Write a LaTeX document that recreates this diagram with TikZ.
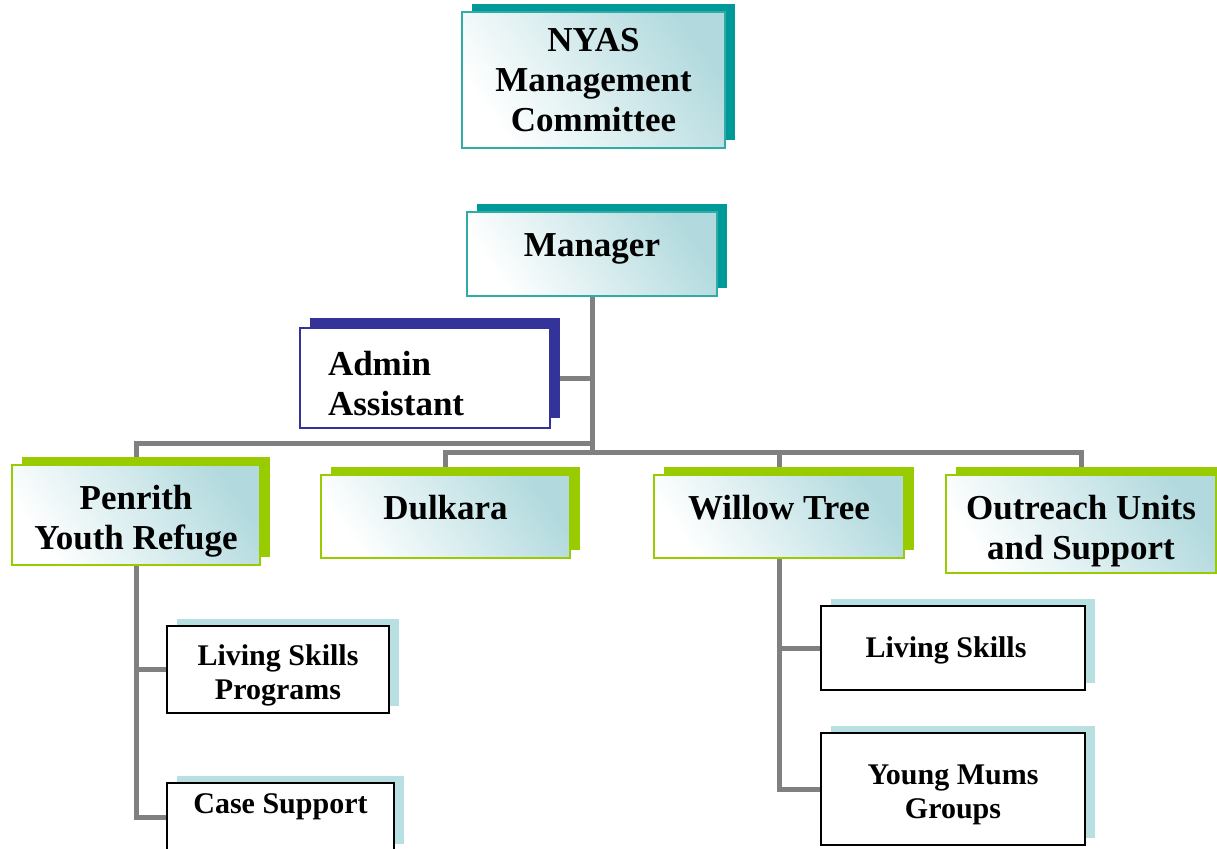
\documentclass[tikz,border=0pt]{standalone}
\usepackage{fontspec}
\setmainfont{Liberation Serif}
\usetikzlibrary{positioning,shadows,backgrounds}
\definecolor{nyasdark}{RGB}{0,153,153}
\definecolor{nyasline}{RGB}{48,172,166}
\definecolor{boxtint}{RGB}{178,218,222}
\definecolor{adminblue}{RGB}{51,51,153}
\definecolor{unitgreen}{RGB}{153,204,0}
\definecolor{subshade}{RGB}{184,224,226}
\definecolor{linkgray}{RGB}{128,128,128}
\tikzset{
  orgbox/.style={draw,line width=1.5pt,inner sep=0pt,align=center,
    font=\bfseries\fontsize{35}{40}\selectfont},
  tintfill/.style={left color=white,right color=boxtint,shading angle=125},
  tealbox/.style={orgbox,draw=nyasline,tintfill,
    general shadow={fill=nyasdark,shadow xshift=10pt,shadow yshift=8pt}},
  greenbox/.style={orgbox,draw=unitgreen,tintfill,
    general shadow={fill=unitgreen,shadow xshift=10pt,shadow yshift=8pt}},
  adminbox/.style={orgbox,draw=adminblue,fill=white,
    general shadow={fill=adminblue,shadow xshift=10pt,shadow yshift=10pt}},
  subbox/.style={orgbox,draw=black,fill=white,font=\bfseries\fontsize{30}{34}\selectfont,
    general shadow={fill=subshade,shadow xshift=10pt,shadow yshift=7pt}},
  link/.style={draw=linkgray,line width=5pt},
  lift/.style 2 args={text height=#1,text depth=#2},
  sink/.style={text height=#1},
}

\begin{document}
\begin{tikzpicture}[x=1pt,y=-1pt]
  \useasboundingbox (0,0) rectangle (1217,848);
  % top of the chart
  \node[tealbox,minimum width=263pt,minimum height=136pt] (nyas) at (593.5,80) {NYAS\\Management\\Committee};
  \node[tealbox,lift={24pt}{20pt},minimum width=250pt,minimum height=84pt] (mgr) at (592,254) {Manager};
  \node[adminbox,sink=36pt,align=left,text width=194pt,inner xsep=28pt,minimum height=100pt] (admin) at (425,378) {Admin\\Assistant};
  % services
  \node[greenbox,sink=76pt,minimum width=248pt,minimum height=100pt] (pyr) at (136,515) {Penrith\\Youth Refuge};
  \node[greenbox,lift={24pt}{19pt},minimum width=249pt,minimum height=83pt] (dul) at (445.5,516.5) {Dulkara};
  \node[greenbox,lift={24pt}{19pt},minimum width=250pt,minimum height=83pt] (wil) at (779,516.5) {Willow Tree};
  \node[greenbox,sink=78pt,minimum width=270pt,minimum height=98pt] (out) at (1081,524) {Outreach Units\\and Support};
  % programs
  \node[subbox,sink=66pt,minimum width=222pt,minimum height=87pt] (lsp) at (278,669.5) {Living Skills\\Programs};
  \node[subbox,lift={21pt}{29pt},minimum width=227pt,minimum height=68pt] (cs) at (280.5,817) {Case Support};
  \node[subbox,lift={24pt}{6pt},minimum width=264pt,minimum height=84pt] (ls) at (953,648) {Living Skills\hspace*{14pt}};
  \node[subbox,sink=66pt,minimum width=264pt,minimum height=112pt] (ymg) at (953,789) {Young Mums\\Groups};
  % connectors
  \begin{scope}[on background layer]
    \coordinate (hubA) at (592,443);
    \coordinate (hubB) at (592,452);
    \draw[link] (mgr.south) -- (hubB);
    \draw[link] (admin.east) -- (admin.east -| mgr.south);
    \draw[link] (hubA) -| (pyr.north);
    \draw[link] (hubB) -| (dul.north);
    \draw[link] (hubB) -| (wil.north);
    \draw[link] (hubB) -| (out.north);
    \draw[link] (pyr.south) |- (lsp.west);
    \draw[link] (pyr.south) |- (cs.west);
    \draw[link] (wil.south) |- (ls.west);
    \draw[link] (wil.south) |- (ymg.west);
  \end{scope}
\end{tikzpicture}
\end{document}
